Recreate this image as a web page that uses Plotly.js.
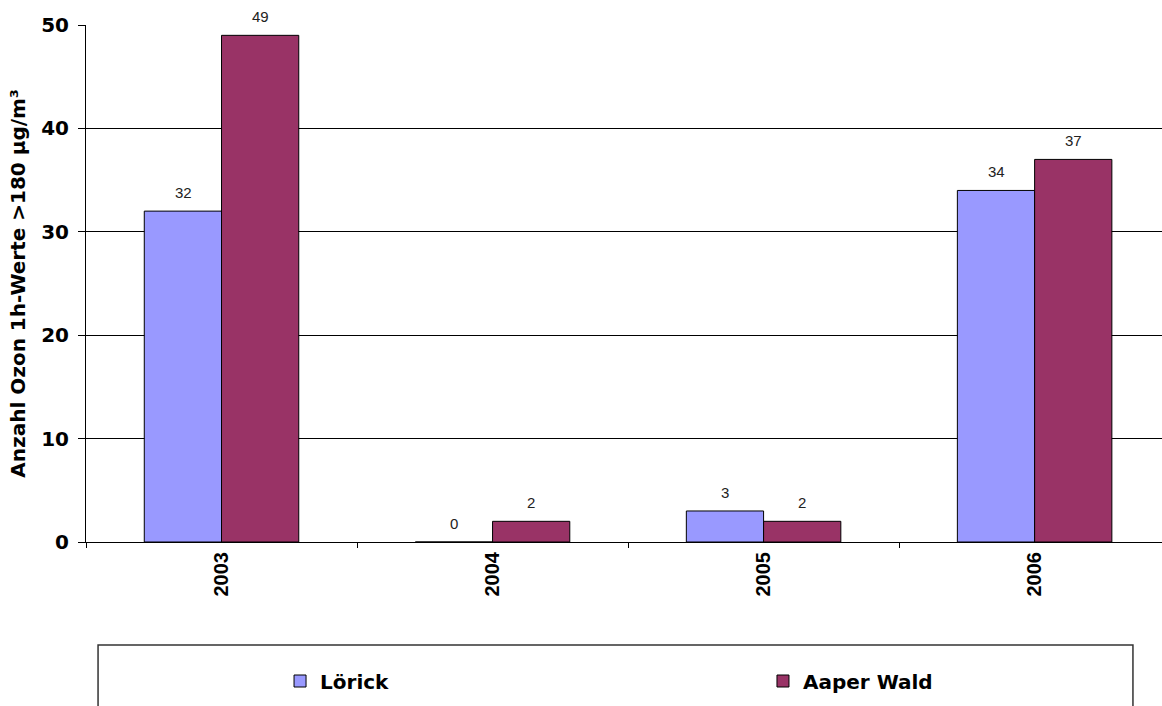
<!DOCTYPE html>
<html>
<head>
<meta charset="utf-8">
<script src="https://cdn.plot.ly/plotly-3.0.1.min.js"></script>
<style>
  html, body { margin: 0; padding: 0; background: #fff; }
  #chart { width: 1162px; height: 706px; }
</style>
</head>
<body>
<div id="chart"></div>
<script>
// Ozone 1-hour values above 180 µg/m³ per year at two stations
const years = ['2003', '2004', '2005', '2006'];
const loerick = [32, 0, 3, 34];
const aaperWald = [49, 2, 2, 37];
const seriesNames = ['Lörick', 'Aaper Wald'];
const seriesColors = ['#9999FF', '#993366'];

const yTicks = [0, 10, 20, 30, 40, 50];

const values = [loerick, aaperWald];
const legendIds = ['legend', 'legend2'];

const traces = values.map((vals, i) => ({
  type: 'bar',
  name: seriesNames[i],
  legend: legendIds[i],
  x: years,
  y: vals,
  marker: { color: seriesColors[i], line: { color: '#000', width: 1 } },
  hoverinfo: 'x+y+name'
}));

// value labels above each bar, shifted onto its half of the group
const barHalf = 38.5;
const annotations = [];
values.forEach((vals, i) => {
  vals.forEach((v, j) => {
    annotations.push({
      x: j,
      y: v,
      xref: 'x',
      yref: 'y',
      xshift: (i === 0 ? -1 : 1) * barHalf,
      yshift: 8,
      yanchor: 'bottom',
      text: String(v),
      showarrow: false,
      font: { family: 'Liberation Sans, Arial, sans-serif', size: 15, color: '#222' }
    });
  });
});

const legendFont = { family: 'DejaVu Sans, Verdana, sans-serif', size: 20, color: '#000', weight: 'bold' };

const layout = {
  width: 1162,
  height: 706,
  margin: { l: 86, r: 0, t: 25, b: 164, autoexpand: false },
  paper_bgcolor: '#fff',
  plot_bgcolor: '#fff',
  barmode: 'group',
  bargap: 0.43,
  bargroupgap: 0,
  showlegend: true,
  xaxis: {
    type: 'category',
    range: [-0.5, 3.47],
    showline: true,
    linecolor: '#000',
    linewidth: 1,
    ticks: 'outside',
    tickson: 'boundaries',
    ticklen: 5,
    tickcolor: '#000',
    tickangle: -90,
    ticklabelstandoff: 1,
    tickfont: { family: 'Liberation Sans, Arial, sans-serif', size: 20, color: '#000', weight: 'bold' },
    showgrid: false,
    zeroline: false
  },
  yaxis: {
    range: [0, 50],
    tickvals: yTicks,
    ticktext: yTicks.map(String),
    showline: true,
    linecolor: '#000',
    linewidth: 1,
    ticks: 'outside',
    ticklen: 7,
    tickcolor: '#000',
    ticklabelstandoff: 5,
    showgrid: true,
    gridcolor: '#000',
    gridwidth: 1,
    zeroline: false,
    tickfont: { family: 'DejaVu Sans, Verdana, sans-serif', size: 20, color: '#000', weight: 'bold' },
    title: {
      text: 'Anzahl Ozon 1h-Werte >180 µg/m³',
      standoff: 10,
      font: { family: 'DejaVu Sans, Verdana, sans-serif', size: 20, color: '#000', weight: 'bold' }
    }
  },
  legend: {
    orientation: 'h',
    xref: 'container', yref: 'container',
    x: 0.2410, xanchor: 'left',
    y: 0.0354, yanchor: 'middle',
    itemwidth: 30,
    bgcolor: 'rgba(0,0,0,0)',
    font: legendFont
  },
  legend2: {
    orientation: 'h',
    xref: 'container', yref: 'container',
    x: 0.6566, xanchor: 'left',
    y: 0.0354, yanchor: 'middle',
    itemwidth: 30,
    bgcolor: 'rgba(0,0,0,0)',
    font: legendFont
  },
  shapes: [{
    type: 'rect', xref: 'paper', yref: 'paper',
    x0: 0.0112, x1: 0.973, y0: -0.199, y1: -0.40,
    line: { color: '#333', width: 1.5 },
    fillcolor: 'rgba(0,0,0,0)',
    layer: 'below'
  }],
  annotations: annotations
};

Plotly.newPlot('chart', traces, layout, { displayModeBar: false, responsive: false });
</script>
</body>
</html>
